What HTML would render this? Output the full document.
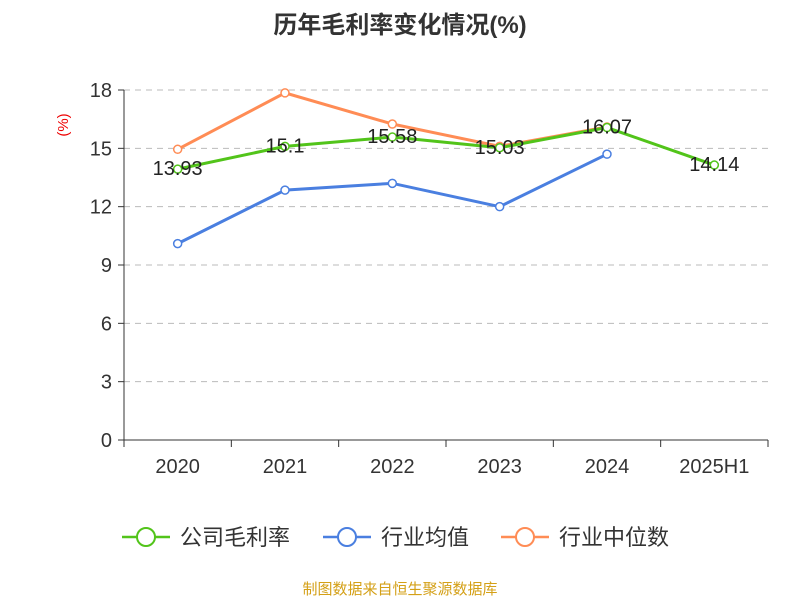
<!DOCTYPE html>
<html><head><meta charset="utf-8"><style>
html,body{margin:0;padding:0;background:#fff;}
svg text{font-family:"Liberation Sans","Noto Sans CJK SC",sans-serif;}
</style></head><body>
<svg id="chart" width="800" height="600" xmlns="http://www.w3.org/2000/svg">
<text x="400" y="33" text-anchor="middle" font-size="24" font-weight="bold" fill="#333">历年毛利率变化情况(%)</text>
<text transform="translate(68,125) rotate(-90)" text-anchor="middle" font-size="15" fill="#e00">(%)</text>
<g id="grid"></g><g id="axes"></g><g id="series"></g>
<g>
<g><line x1="122" y1="537" x2="170" y2="537" stroke="#52c41a" stroke-width="2.5"/><circle cx="146" cy="537" r="9" fill="#fff" stroke="#52c41a" stroke-width="2"/><text x="180" y="545" font-size="22" fill="#333">公司毛利率</text></g>
<g><line x1="323" y1="537" x2="371" y2="537" stroke="#4a7fe0" stroke-width="2.5"/><circle cx="347" cy="537" r="9" fill="#fff" stroke="#4a7fe0" stroke-width="2"/><text x="381" y="545" font-size="22" fill="#333">行业均值</text></g>
<g><line x1="501" y1="537" x2="549" y2="537" stroke="#ff8c55" stroke-width="2.5"/><circle cx="525" cy="537" r="9" fill="#fff" stroke="#ff8c55" stroke-width="2"/><text x="559" y="545" font-size="22" fill="#333">行业中位数</text></g>
</g>
<text x="400" y="594" text-anchor="middle" font-size="15" fill="#d4a017">制图数据来自恒生聚源数据库</text>
</svg>
<script>
const categories=["2020","2021","2022","2023","2024","2025H1"];
const companyValues=[13.93,15.1,15.58,15.03,16.07,14.14];
const industryAvgValues=[10.1,12.85,13.2,12.0,14.7,null];
const industryMedianValues=[14.95,17.85,16.25,15.1,16.1,null];
const yTicks=[0,3,6,9,12,15,18];
const NS="http://www.w3.org/2000/svg";
const plotLeft=124,plotRight=768,plotTop=90,plotBottom=440,yMax=18;
const band=(plotRight-plotLeft)/categories.length;
const xs=i=>plotLeft+band*(i+0.5);
const ys=v=>plotBottom-(v/yMax)*(plotBottom-plotTop);
function mk(t,a,p){const e=document.createElementNS(NS,t);for(const k in a)e.setAttribute(k,a[k]);p.appendChild(e);return e;}
const grid=document.getElementById('grid'),axes=document.getElementById('axes'),series=document.getElementById('series');
yTicks.forEach(v=>{
 if(v>0){const g=mk('line',{x1:plotLeft,x2:plotRight,y1:ys(v),y2:ys(v),stroke:'#bbb','stroke-dasharray':'6,5'},grid);
 
 }
 const t=mk('text',{x:plotLeft-12,y:ys(v)+7,'text-anchor':'end','font-size':20,fill:'#333'},axes);t.textContent=v;
 
 
 mk('line',{x1:plotLeft-6,x2:plotLeft,y1:ys(v),y2:ys(v),stroke:'#333'},axes);
});
const ya=mk('line',{x1:plotLeft,x2:plotLeft,y1:plotTop,y2:plotBottom,stroke:'#333'},axes);


const xa=mk('line',{x1:plotLeft,x2:plotRight,y1:plotBottom,y2:plotBottom,stroke:'#333'},axes);


for(let i=0;i<=categories.length;i++)mk('line',{x1:plotLeft+band*i,x2:plotLeft+band*i,y1:plotBottom,y2:plotBottom+7,stroke:'#333'},axes);
categories.forEach((c,i)=>{const t=mk('text',{x:xs(i),y:plotBottom+33,'text-anchor':'middle','font-size':20,fill:'#333'},axes);t.textContent=c;
 
 });
function draw(vals,color,name,labels){
 const pts=[];vals.forEach((v,i)=>{if(v!=null)pts.push([xs(i),ys(v),v]);});
 const pl=mk('polyline',{points:pts.map(p=>p[0]+','+p[1]).join(' '),fill:'none',stroke:color,'stroke-width':3},series);
 
 
 pts.forEach(p=>{const c=mk('circle',{cx:p[0],cy:p[1],r:4,fill:'#fff',stroke:color,'stroke-width':1.5},series);
  
  
  if(labels){const t=mk('text',{x:p[0],y:p[1]+6,'text-anchor':'middle','font-size':20,fill:'#222'},series);t.textContent=p[2];
  
  }});
}
draw(industryAvgValues,'#4a7fe0','industry-average',false);
draw(industryMedianValues,'#ff8c55','industry-median',false);
draw(companyValues,'#52c41a','company',true);
</script>
</body></html>
